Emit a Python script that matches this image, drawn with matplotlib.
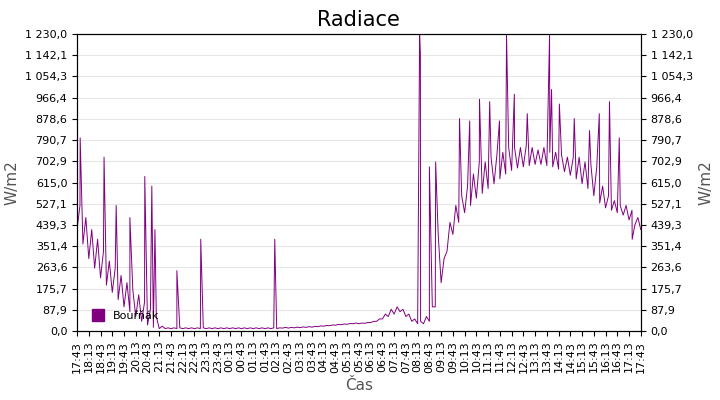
import matplotlib
matplotlib.use("Agg")
import matplotlib.pyplot as plt
from matplotlib.lines import Line2D

# 15-minute samples starting 17:43, lower and upper edge of the noisy signal (W/m2)
low = [420, 360, 300, 260, 220, 190, 160, 130, 100, 80, 60, 40, 25, 15, 10,
       10, 10, 10, 10, 10, 10, 10, 10, 10, 10,
       10, 10, 10, 10, 10, 10, 10, 10, 10, 10,
       12, 12, 13, 14, 15, 16, 18, 20, 22, 24,
       26, 28, 30, 30, 32,
       35, 40, 50, 60, 70, 80, 60, 40, 30, 30, 40, 100,
       200, 330, 400, 450, 490, 520, 550, 570, 590, 610, 630, 650, 665, 675, 680,
       685, 690, 690, 685, 680, 670, 660, 645, 630, 610, 590, 560, 530, 510, 500,
       490, 480, 460, 440, 420]
high = [520, 470, 420, 380, 330, 290, 260, 230, 200, 170, 150, 120, 90, 60, 20,
        13, 13, 13, 13, 13, 13, 13, 13, 13, 13,
        13, 13, 13, 13, 13, 13, 13, 13, 13, 13,
        15, 15, 16, 17, 18, 19, 21, 23, 25, 27,
        29, 31, 33, 33, 35,
        40, 50, 70, 90, 100, 90, 70, 50, 40, 60, 100, 400,
        300, 450, 520, 560, 600, 650, 700, 700, 720, 730, 740, 760, 760, 760, 770,
        760, 750, 760, 740, 740, 730, 720, 720, 720, 700, 690, 680, 600, 560, 540,
        520, 520, 500, 470, 440]

# isolated spikes: minutes after 17:43, value
spike_t = [8, 69, 100, 135, 173, 191, 199, 255, 316, 505, 875, 877, 900, 916, 977,
           1003, 1028, 1054, 1079, 1097, 1117, 1150, 1207, 1212, 1232, 1270, 1309,
           1334, 1360, 1385, 1418]
spike_v = [800, 720, 520, 470, 640, 600, 420, 250, 380, 380, 1230, 1150, 680, 700, 880,
           870, 960, 950, 870, 1230, 980, 900, 1230, 1000, 940, 880, 830,
           900, 950, 800, 380]

pts = []
for i in range(len(low)):
    pts.append((15 * i, low[i]))
    if i < len(low) - 1:
        pts.append((15 * i + 7.5, high[i]))
pts += list(zip(spike_t, spike_v))
pts.sort()
xs = [p[0] for p in pts]
ys = [p[1] for p in pts]

fig = plt.figure(figsize=(7.2, 4), dpi=100)
ax = fig.add_axes([0.107, 0.1725, 0.783, 0.7425])
ax.plot(xs, ys, color="#800080", lw=0.7)
ax.set_xlim(0, 1440)
ax.set_ylim(0, 1230)

yt = [1230 / 14 * k for k in range(15)]
ylab = [f"{v:,.1f}".replace(",", " ").replace(".", ",") for v in yt]
ax.set_yticks(yt)
ax.set_yticklabels(ylab, fontsize=8)
ax.yaxis.grid(True, color="#e6e6e6", lw=0.8)
ax.set_axisbelow(True)

xt = list(range(0, 1441, 30))
xlab = []
for m in xt:
    tot = (17 * 60 + 43 + m) % 1440
    xlab.append(f"{tot // 60:02d}:{tot % 60:02d}")
ax.set_xticks(xt)
ax.set_xticklabels(xlab, rotation=90, fontsize=8)

ax2 = ax.twinx()
ax2.set_ylim(0, 1230)
ax2.set_yticks(yt)
ax2.set_yticklabels(ylab, fontsize=8)
ax2.set_ylabel("W/m2", fontsize=11, color="#555555")

ax.set_title("Radiace", fontsize=15)
ax.set_xlabel("Čas", fontsize=11, color="#555555")
ax.set_ylabel("W/m2", fontsize=11, color="#555555")

h = Line2D([], [], marker="s", color="#800080", ls="", markersize=8)
ax.legend([h], ["Bouřňák"], loc="lower left", frameon=False, fontsize=8,
          handletextpad=0.3, bbox_to_anchor=(0, 0.0))

fig.savefig("out.png")
